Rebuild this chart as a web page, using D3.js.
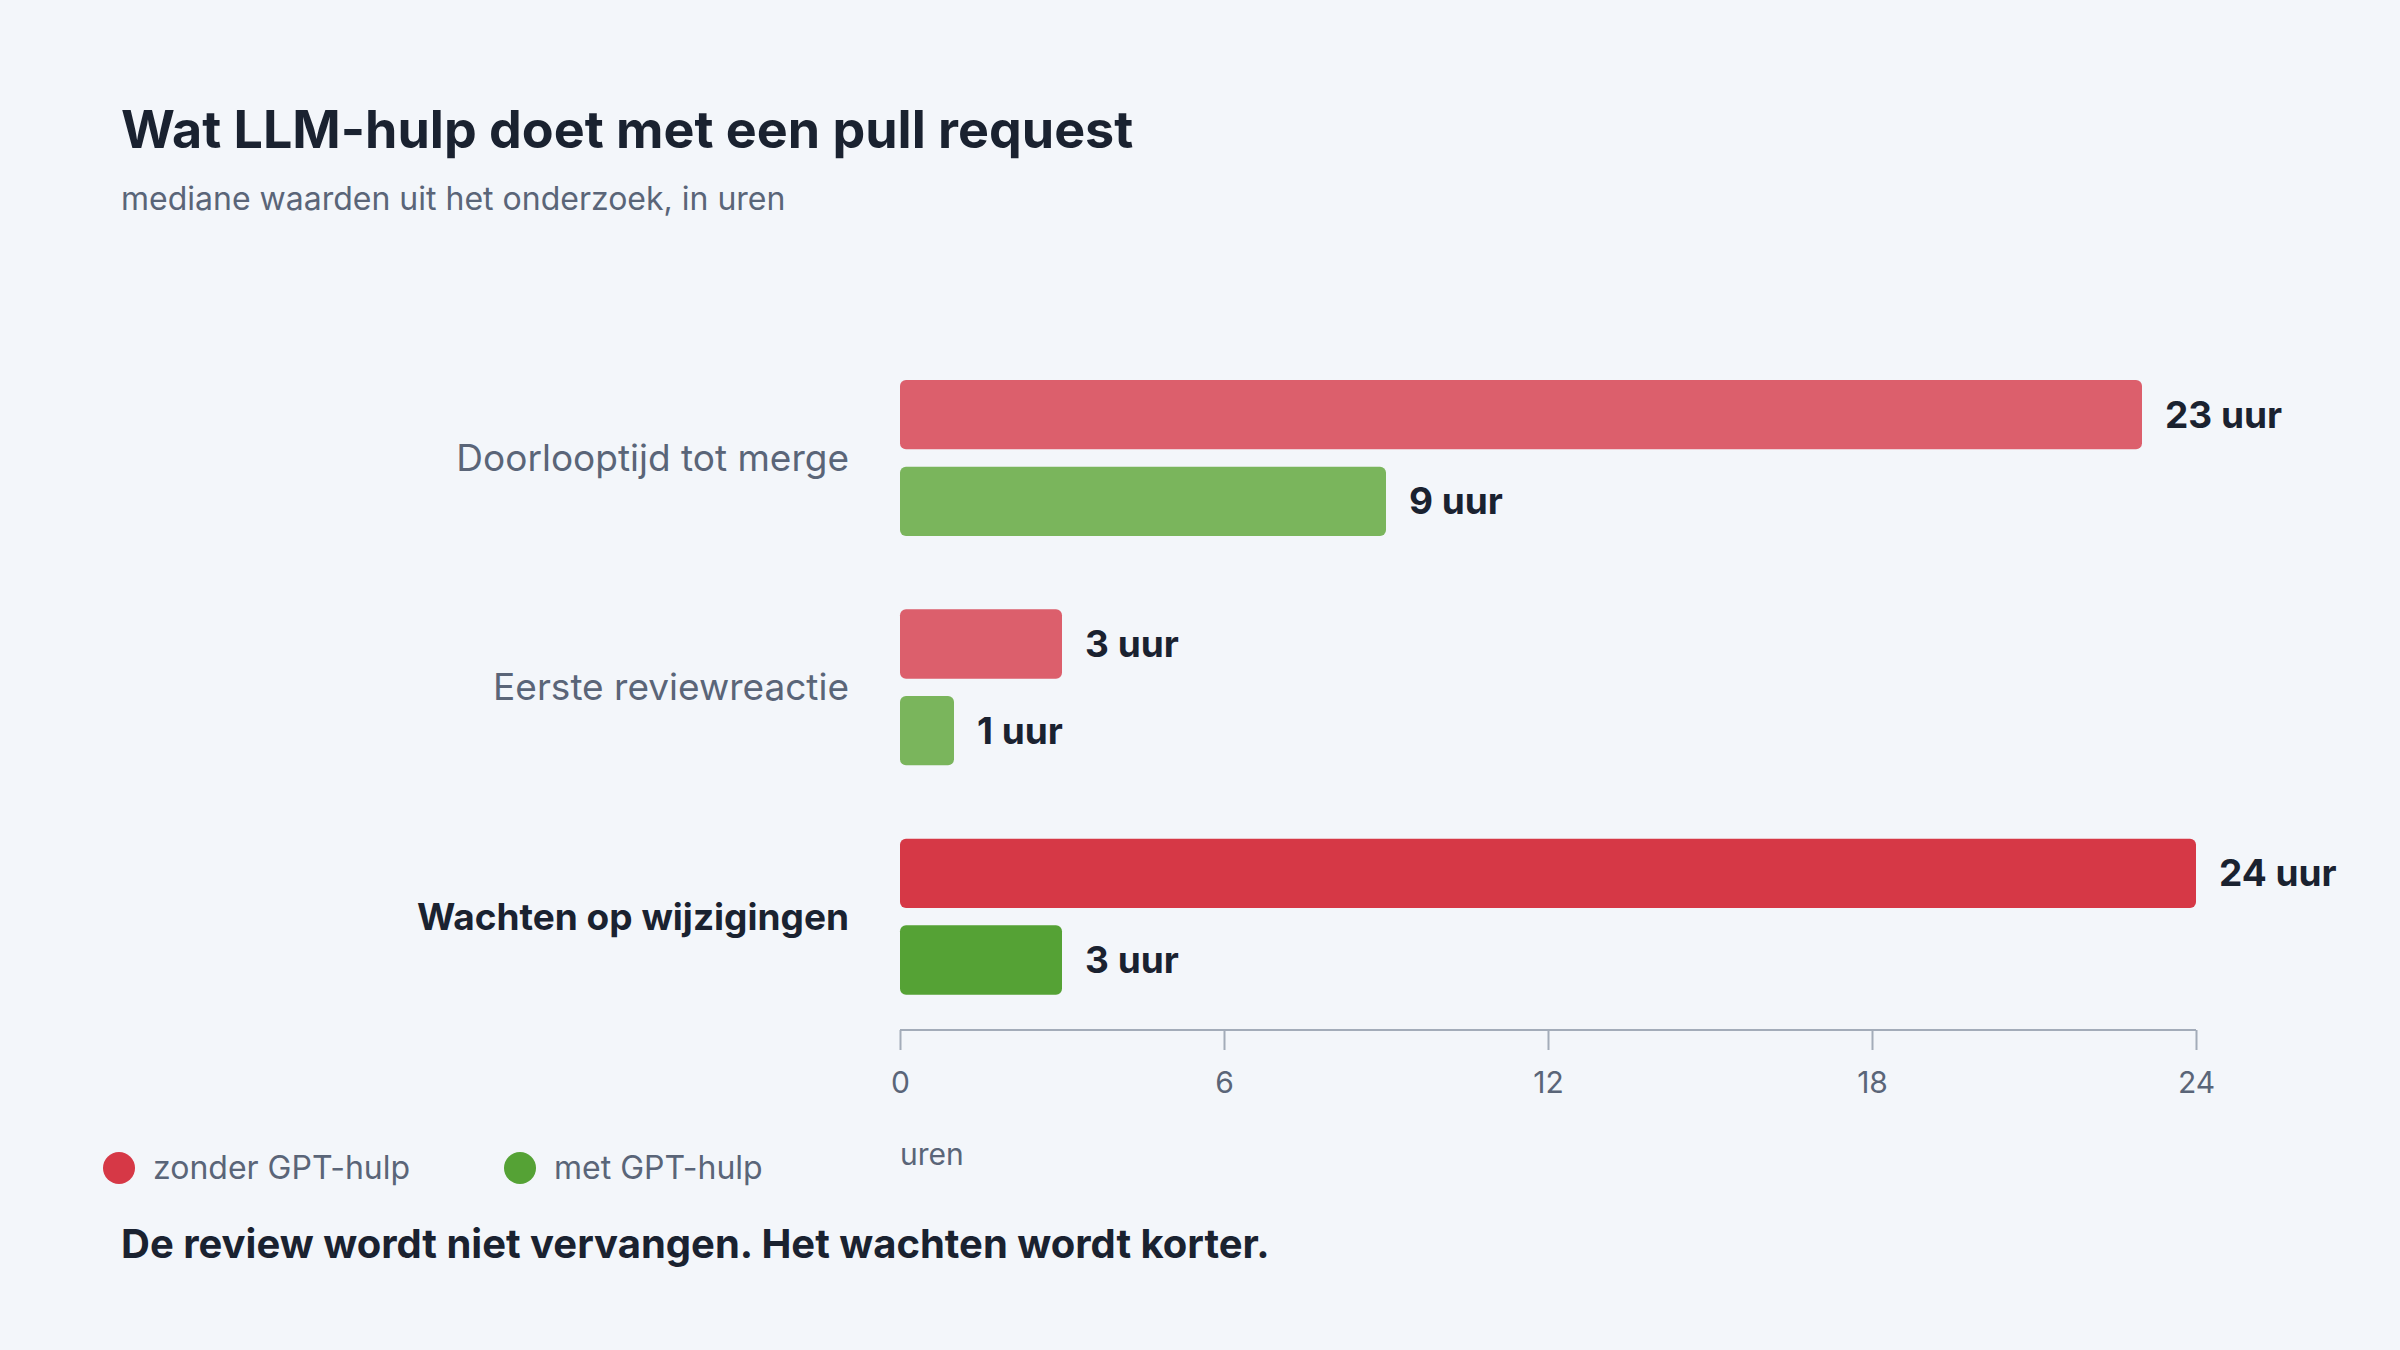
<!doctype html>
<html>
<head>
  <meta charset="utf-8">
  <title>LLM-hulp</title>
  <style>
    body { margin: 0; background: #f3f6fa; }
    svg { display: block; font-family: Inter, "Noto Sans", sans-serif; }
  </style>
</head>
<body>
  <svg id="chart" width="2400" height="1350"></svg>
  <script src="https://cdn.jsdelivr.net/npm/d3@7"></script>
  <script>
    const categories = ['Doorlooptijd tot merge', 'Eerste reviewreactie', 'Wachten op wijzigingen'];
    const zonder = [23, 3, 24];
    const met = [9, 1, 3];
    const ticks = [0, 6, 12, 18, 24];
    const series = ['zonder GPT-hulp', 'met GPT-hulp'];
    const highlight = 'Wachten op wijzigingen';

    const svg = d3.select('#chart');
    svg.append('rect').attr('width', 2400).attr('height', 1350).attr('fill', '#f3f6fa');

    const x = d3.scaleLinear().domain([0, 24]).range([900, 2196]);
    const y = d3.scaleBand().domain(categories).range([344, 1032]).paddingInner(0);
    const sub = d3.scaleBand().domain(series).range([36, 192]).paddingInner(0.2);

    const colors = {
      'zonder GPT-hulp': ['#dc5f6c', '#d63846'],
      'met GPT-hulp': ['#7ab55c', '#55a235']
    };

    // titel
    svg.append('text').attr('x', 121).attr('y', 148).attr('font-size', 52).attr('font-weight', 700)
      .attr('fill', '#1a2230').text('Wat LLM-hulp doet met een pull request');
    svg.append('text').attr('x', 121).attr('y', 210).attr('font-size', 32)
      .attr('fill', '#5a6578').text('mediane waarden uit het onderzoek, in uren');

    const rows = categories.map((c, i) => ({ c, vals: [zonder[i], met[i]] }));
    const g = svg.selectAll('g.row').data(rows).join('g').attr('class', 'row')
      .attr('transform', d => `translate(0,${y(d.c)})`);

    g.append('text')
      .attr('x', 849).attr('y', sub(series[0]) + (sub(series[1]) + sub.bandwidth() - sub(series[0])) / 2)
      .attr('dy', '0.35em').attr('text-anchor', 'end').attr('font-size', 37)
      .attr('font-weight', d => d.c === highlight ? 700 : 400)
      .attr('fill', d => d.c === highlight ? '#1a2230' : '#5a6578')
      .text(d => d.c);

    series.forEach((s, si) => {
      g.append('rect')
        .attr('x', x(0)).attr('y', sub(s))
        .attr('width', d => x(d.vals[si]) - x(0)).attr('height', sub.bandwidth())
        .attr('rx', 6)
        .attr('fill', d => colors[s][d.c === highlight ? 1 : 0]);
      g.append('text')
        .attr('x', d => x(d.vals[si]) + 23).attr('y', sub(s) + sub.bandwidth() / 2)
        .attr('dy', '0.35em').attr('font-size', 37).attr('font-weight', 700).attr('fill', '#1a2230')
        .text(d => d.vals[si] + ' uur');
    });

    // as
    const axis = svg.append('g').attr('transform', 'translate(0,1030)')
      .call(d3.axisBottom(x).tickValues(ticks).tickSize(20).tickPadding(22));
    axis.select('.domain').attr('stroke', '#a3acb9').attr('stroke-width', 2).attr('d', `M${x(0)},0H${x(24)}`);
    axis.selectAll('.tick line').attr('stroke', '#a3acb9').attr('stroke-width', 2);
    axis.selectAll('.tick text').attr('font-size', 30).attr('fill', '#5a6578')
      .attr('font-family', 'Inter, "Noto Sans", sans-serif');
    svg.append('text').attr('x', 900).attr('y', 1165).attr('font-size', 30).attr('fill', '#5a6578').text('uren');

    // legenda
    const legX = [119, 520];
    const leg = svg.selectAll('g.leg').data(series).join('g').attr('class', 'leg')
      .attr('transform', (d, i) => `translate(${legX[i]},1168)`);
    leg.append('circle').attr('r', 16).attr('fill', d => colors[d][1]);
    leg.append('text').attr('x', 34).attr('dy', '0.35em').attr('font-size', 32).attr('fill', '#5a6578').text(d => d);

    svg.append('text').attr('x', 121).attr('y', 1258).attr('font-size', 40).attr('font-weight', 700)
      .attr('fill', '#1a2230').text('De review wordt niet vervangen. Het wachten wordt korter.');
  </script>
</body>
</html>
